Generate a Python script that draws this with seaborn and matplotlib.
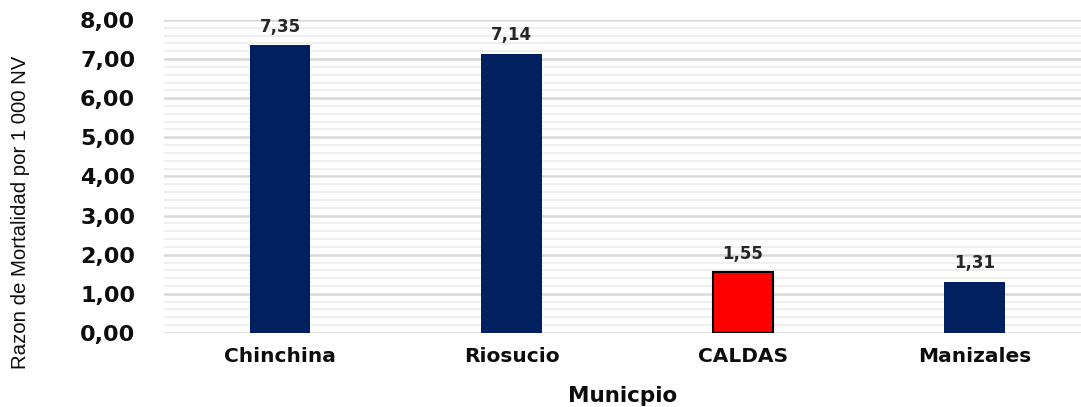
import matplotlib
matplotlib.use("Agg")
import matplotlib.pyplot as plt
import seaborn as sns
import pandas as pd
from matplotlib.ticker import MultipleLocator, FuncFormatter

categories = ["Chinchina", "Riosucio", "CALDAS", "Manizales"]
values = [7.35, 7.14, 1.55, 1.31]
colors = ["#002060", "#002060", "#FF0000", "#002060"]
edges = ["none", "none", "#000000", "none"]

sns.set_theme(style="white")
plt.rcParams["font.family"] = ["DejaVu Sans"]

df = pd.DataFrame({"Municipio": categories, "valor": values})

fig = plt.figure(figsize=(10.81, 4.07), dpi=100)
ax = fig.add_axes([0.152, 0.182, 0.848, 0.769])

sns.barplot(data=df, x="Municipio", y="valor", hue="Municipio",
            palette=dict(zip(categories, colors)), legend=False,
            width=0.26, ax=ax, zorder=3, saturation=1)

for patch, ec in zip(ax.patches, edges):
    if ec != "none":
        patch.set_edgecolor(ec)
        patch.set_linewidth(1.5)
    else:
        patch.set_edgecolor("none")

for cont in ax.containers:
    ax.bar_label(cont, labels=[f"{v:.2f}".replace(".", ",") for v in cont.datavalues],
                 padding=7, fontsize=12, fontweight="bold", color="#262626")

ax.set_ylim(0, 8)
ax.set_xlim(-0.5, 3.46)
ax.yaxis.set_major_locator(MultipleLocator(1))
ax.yaxis.set_minor_locator(MultipleLocator(0.2))
ax.yaxis.set_major_formatter(FuncFormatter(lambda v, p: f"{v:.2f}".replace(".", ",")))
ax.grid(axis="y", which="major", color="#d9d9d9", linewidth=1.8, zorder=0)
ax.grid(axis="y", which="minor", color="#efefef", linewidth=1.5, zorder=0)
ax.grid(axis="x", visible=False)
for s in ax.spines.values():
    s.set_visible(False)
ax.tick_params(axis="y", which="both", length=0, pad=21, labelsize=16)
ax.tick_params(axis="x", length=0, pad=10, labelsize=14.5)
for t in ax.get_yticklabels() + ax.get_xticklabels():
    t.set_fontweight("bold")
    t.set_color("#0d0d0d")

ax.set_xlabel("Municpio", fontsize=15.5, fontweight="bold", color="#0d0d0d")
ax.xaxis.set_label_coords(0.5, -0.17)
ax.set_ylabel("Razon de Mortalidad por 1 000 NV", fontsize=14.7, color="#0d0d0d",
              family=["Liberation Sans", "DejaVu Sans"])
ax.yaxis.set_label_coords(-0.146, 0.385)

fig.savefig("out.png", dpi=100)
